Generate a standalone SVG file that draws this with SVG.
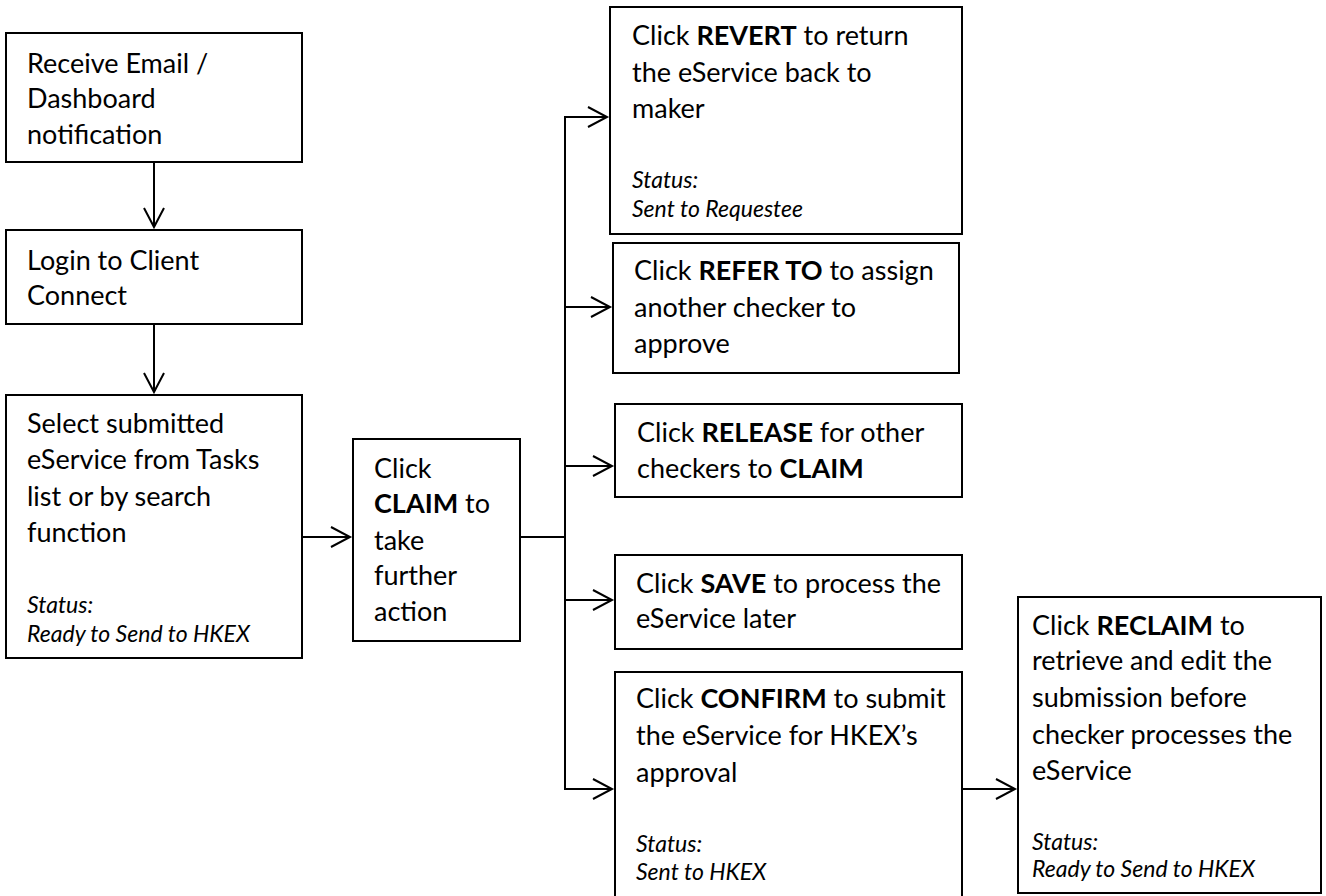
<svg xmlns="http://www.w3.org/2000/svg" width="1326" height="896" viewBox="0 0 1326 896">
<defs>
<style>
.box{fill:#fff;stroke:#000;stroke-width:2}
.t{font-family:Lato,"Liberation Sans",sans-serif;font-size:27px;fill:#000}
.s{font-family:Lato,"Liberation Sans",sans-serif;font-size:23px;font-style:italic;fill:#000}
.b{font-weight:bold}
.c{fill:none;stroke:#000;stroke-width:2}
</style>
<marker id="ah" markerUnits="userSpaceOnUse" markerWidth="24" markerHeight="24" viewBox="-21 -12 24 24" refX="0" refY="0" orient="auto">
<path d="M-19,-10 L0,0 L-19,10" fill="none" stroke="#000" stroke-width="2"/>
</marker>
</defs>
<rect width="1326" height="896" fill="#fff"/>
<g id="connectors">
<line class="c" x1="154" y1="162" x2="154" y2="227" marker-end="url(#ah)"/>
<line class="c" x1="154" y1="324" x2="154" y2="392" marker-end="url(#ah)"/>
<line class="c" x1="302" y1="537" x2="350" y2="537" marker-end="url(#ah)"/>
<line class="c" x1="520" y1="537" x2="565" y2="537"/>
<line class="c" x1="565" y1="117" x2="565" y2="789"/>
<line class="c" x1="564" y1="117" x2="607" y2="117" marker-end="url(#ah)"/>
<line class="c" x1="564" y1="307" x2="610" y2="307" marker-end="url(#ah)"/>
<line class="c" x1="564" y1="466" x2="612" y2="466" marker-end="url(#ah)"/>
<line class="c" x1="564" y1="600" x2="612" y2="600" marker-end="url(#ah)"/>
<line class="c" x1="564" y1="789" x2="612" y2="789" marker-end="url(#ah)"/>
<line class="c" x1="962" y1="789" x2="1015" y2="789" marker-end="url(#ah)"/>
</g>
<g id="receive">
<rect class="box" x="6" y="33" width="296" height="129"/>
<text class="t" x="27" y="73">Receive Email /</text>
<text class="t" x="27" y="108">Dashboard</text>
<text class="t" x="27" y="144">notification</text>
</g>
<g id="login">
<rect class="box" x="6" y="230" width="296" height="94"/>
<text class="t" x="27" y="270">Login to Client</text>
<text class="t" x="27" y="305">Connect</text>
</g>
<g id="select">
<rect class="box" x="6" y="395" width="296" height="263"/>
<text class="t" x="27" y="433">Select submitted</text>
<text class="t" x="27" y="469">eService from Tasks</text>
<text class="t" x="27" y="506">list or by search</text>
<text class="t" x="27" y="542">function</text>
<text class="s" x="27" y="613">Status:</text>
<text class="s" x="27" y="642">Ready to Send to HKEX</text>
</g>
<g id="claim">
<rect class="box" x="353" y="439" width="167" height="202"/>
<text class="t" x="374" y="478">Click</text>
<text class="t" x="374" y="513"><tspan class="b">CLAIM</tspan> to</text>
<text class="t" x="374" y="550">take</text>
<text class="t" x="374" y="585">further</text>
<text class="t" x="374" y="621">action</text>
</g>
<g id="revert">
<rect class="box" x="610" y="7" width="352" height="227"/>
<text class="t" x="632" y="45">Click <tspan class="b">REVERT</tspan> to return</text>
<text class="t" x="632" y="82">the eService back to</text>
<text class="t" x="632" y="118">maker</text>
<text class="s" x="632" y="188">Status:</text>
<text class="s" x="632" y="217">Sent to Requestee</text>
</g>
<g id="referto">
<rect class="box" x="613" y="243" width="346" height="130"/>
<text class="t" x="634" y="280">Click <tspan class="b">REFER TO</tspan> to assign</text>
<text class="t" x="634" y="317">another checker to</text>
<text class="t" x="634" y="353">approve</text>
</g>
<g id="release">
<rect class="box" x="615" y="404" width="347" height="93"/>
<text class="t" x="637" y="442">Click <tspan class="b">RELEASE</tspan> for other</text>
<text class="t" x="637" y="478">checkers to <tspan class="b">CLAIM</tspan></text>
</g>
<g id="save">
<rect class="box" x="615" y="555" width="347" height="94"/>
<text class="t" x="636" y="593">Click <tspan class="b">SAVE</tspan> to process the</text>
<text class="t" x="636" y="628">eService later</text>
</g>
<g id="confirm">
<rect class="box" x="615" y="672" width="347" height="240"/>
<text class="t" x="636" y="708">Click <tspan class="b">CONFIRM</tspan> to submit</text>
<text class="t" x="636" y="745">the eService for HKEX’s</text>
<text class="t" x="636" y="782">approval</text>
<text class="s" x="636" y="852">Status:</text>
<text class="s" x="636" y="880">Sent to HKEX</text>
</g>
<g id="reclaim">
<rect class="box" x="1018" y="597" width="303" height="296"/>
<text class="t" x="1032" y="635">Click <tspan class="b">RECLAIM</tspan> to</text>
<text class="t" x="1032" y="670">retrieve and edit the</text>
<text class="t" x="1032" y="707">submission before</text>
<text class="t" x="1032" y="744">checker processes the</text>
<text class="t" x="1032" y="780">eService</text>
<text class="s" x="1032" y="850">Status:</text>
<text class="s" x="1032" y="877">Ready to Send to HKEX</text>
</g>
</svg>
